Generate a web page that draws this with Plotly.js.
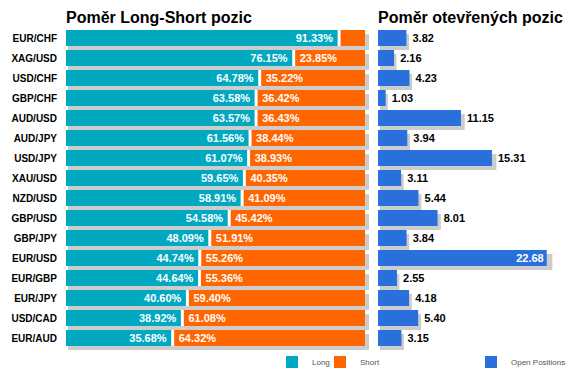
<!DOCTYPE html>
<html><head><meta charset="utf-8">
<script src="https://cdn.plot.ly/plotly-3.0.1.min.js"></script>
<style>html,body{margin:0;padding:0;background:#fff}#chart{width:576px;height:380px}</style>
</head><body><div id="chart"></div>
<script>
const pairs = ['EUR/CHF','XAG/USD','USD/CHF','GBP/CHF','AUD/USD','AUD/JPY','USD/JPY','XAU/USD','NZD/USD','GBP/USD','GBP/JPY','EUR/USD','EUR/GBP','EUR/JPY','USD/CAD','EUR/AUD'];
const longPct = [91.33,76.15,64.78,63.58,63.57,61.56,61.07,59.65,58.91,54.58,48.09,44.74,44.64,40.60,38.92,35.68];
const shortPct = [8.67,23.85,35.22,36.42,36.43,38.44,38.93,40.35,41.09,45.42,51.91,55.26,55.36,59.40,61.08,64.32];
const openPos = [3.82,2.16,4.23,1.03,11.15,3.94,15.31,3.11,5.44,8.01,3.84,22.68,2.55,4.18,5.40,3.15];

const W = 576, H = 380;
const fx = p => p / W;
const fy = p => 1 - p / H;

const TEAL = '#00a8c0', ORANGE = '#ff6600', BLUE = '#2a70dc', SHADOW = '#cccccc';
const FONT = '"Liberation Sans", Arial, sans-serif';
const NB = '\u00a0';
// labels that do not fit inside their bar are left out, as in the original
const MIN_LABEL_PCT = 15;

const totals = longPct.map((v, i) => v + shortPct[i]);
const valFont = c => ({color:c, size:11, family:FONT, weight:'bold'});

const traces = [
  { type:'bar', orientation:'h', y:pairs, x:totals, xaxis:'x', yaxis:'y',
    marker:{color:SHADOW}, showlegend:false, hoverinfo:'skip' },
  { type:'bar', orientation:'h', y:pairs, x:openPos, xaxis:'x2', yaxis:'y2',
    marker:{color:SHADOW}, showlegend:false, hoverinfo:'skip' },
  { type:'bar', orientation:'h', name:'Long', y:pairs, x:longPct, base:pairs.map(() => 0),
    xaxis:'x3', yaxis:'y3', marker:{color:TEAL}, legend:'legend',
    text: longPct.map(v => v >= MIN_LABEL_PCT ? v.toFixed(2) + '%' + NB : ''),
    textposition:'inside', insidetextanchor:'end', textangle:0,
    insidetextfont:valFont('#ffffff'), constraintext:'none' },
  { type:'bar', orientation:'h', name:'Short', y:pairs, x:shortPct, base:longPct,
    xaxis:'x3', yaxis:'y3', marker:{color:ORANGE}, legend:'legend3',
    text: shortPct.map(v => v >= MIN_LABEL_PCT ? NB + v.toFixed(2) + '%' : ''),
    textposition:'inside', insidetextanchor:'start', textangle:0,
    insidetextfont:valFont('#ffffff'), constraintext:'none' },
  { type:'bar', orientation:'h', y:pairs, x:pairs.map(() => 1), base:longPct.map(v => v - 0.5),
    xaxis:'x3', yaxis:'y3', marker:{color:'#ffffff'}, showlegend:false, hoverinfo:'skip' },
  { type:'bar', orientation:'h', name:'Open Positions', y:pairs, x:openPos,
    xaxis:'x4', yaxis:'y4', marker:{color:BLUE}, legend:'legend2',
    text: openPos.map(v => NB + v.toFixed(2)),
    textposition: openPos.map(v => v >= 20 ? 'inside' : 'outside'), insidetextanchor:'end', textangle:0,
    insidetextfont:valFont('#ffffff'), outsidetextfont:valFont('#000000'),
    constraintext:'none', cliponaxis:false }
];

const hiddenX = (d, r, a) => ({domain:d, range:r, anchor:a, visible:false, fixedrange:true});
const hiddenY = (d, a) => ({domain:d, type:'category', range:[15.5,-0.5], anchor:a, visible:false, fixedrange:true});
const legendAt = px => ({orientation:'h', x:fx(px), y:fy(362), xanchor:'left', yanchor:'middle',
    font:{family:FONT, size:8, color:'#555555'}, bgcolor:'rgba(0,0,0,0)', itemwidth:30});

const layout = {
  width:W, height:H, margin:{l:0,r:0,t:0,b:0},
  paper_bgcolor:'#ffffff', plot_bgcolor:'rgba(0,0,0,0)',
  barmode:'overlay', bargap:0.2,
  font:{family:FONT},
  xaxis: hiddenX([fx(68), fx(369)], [0,100], 'y'),
  yaxis: hiddenY([fy(352), fy(32)], 'x'),
  xaxis2: hiddenX([fx(380), fx(570)], [0,25], 'y2'),
  yaxis2: hiddenY([fy(352), fy(32)], 'x2'),
  xaxis3: hiddenX([fx(66), fx(365)], [0,100], 'y3'),
  yaxis3: {domain:[fy(348), fy(28)], type:'category', range:[15.5,-0.5], anchor:'x3',
    showgrid:false, zeroline:false, showline:false, ticks:'', ticklabelstandoff:8,
    tickfont:{family:FONT, size:10, color:'#000000', weight:'bold'}, fixedrange:true},
  xaxis4: hiddenX([fx(378), fx(564)], [0,25], 'y4'),
  yaxis4: hiddenY([fy(348), fy(28)], 'x4'),
  legend: legendAt(272),
  legend3: legendAt(320),
  legend2: legendAt(471),
  annotations:[
    {text:'Poměr Long-Short pozic', xref:'paper', yref:'paper', x:fx(64), y:fy(17),
     xanchor:'left', yanchor:'middle', showarrow:false,
     font:{family:FONT, size:16, color:'#000000', weight:'bold'}},
    {text:'Poměr otevřených pozic', xref:'paper', yref:'paper', x:fx(376), y:fy(17),
     xanchor:'left', yanchor:'middle', showarrow:false,
     font:{family:FONT, size:16, color:'#000000', weight:'bold'}}
  ]
};

Plotly.newPlot('chart', traces, layout, {staticPlot:true, displayModeBar:false});
</script>
</body></html>
